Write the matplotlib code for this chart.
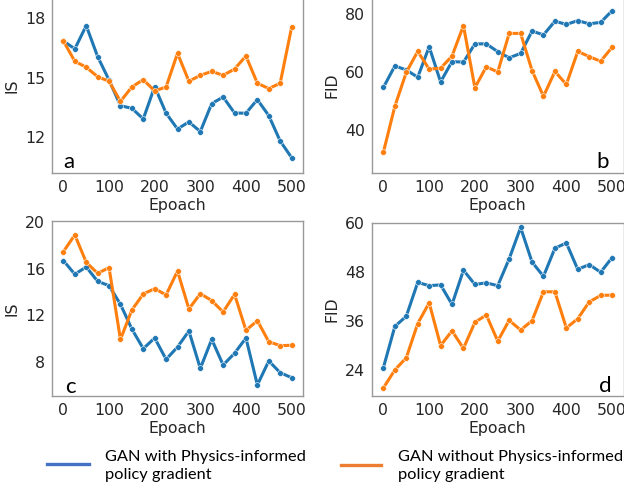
import matplotlib
matplotlib.use("Agg")
import matplotlib.pyplot as plt
from matplotlib.lines import Line2D

epochs = [0, 25, 50, 75, 100, 125, 150, 175, 200, 225, 250, 275, 300,
          325, 350, 375, 400, 425, 450, 475, 500]

a_with = [16.85, 16.45, 17.63, 16.06, 14.87, 13.57, 13.44, 12.90, 14.54, 13.19, 12.39,
          12.75, 12.26, 13.68, 14.01, 13.20, 13.19, 13.88, 13.07, 11.78, 10.94]
a_without = [16.85, 15.82, 15.52, 15.04, 14.81, 13.79, 14.52, 14.89, 14.32, 14.52, 16.23,
             14.81, 15.11, 15.31, 15.11, 15.43, 16.09, 14.71, 14.44, 14.71, 17.54]

b_with = [54.7, 62.1, 60.7, 58.2, 68.7, 56.6, 63.6, 63.4, 69.7, 69.7, 67.0,
          64.9, 66.4, 74.1, 72.8, 77.5, 76.4, 77.7, 76.6, 77.1, 81.1]
b_without = [32.4, 48.2, 59.9, 67.1, 61.0, 61.3, 65.5, 76.0, 54.6, 61.8, 60.0,
             73.3, 73.3, 60.5, 51.6, 60.2, 55.7, 67.1, 65.3, 63.7, 68.5]

c_with = [16.70, 15.52, 16.15, 14.91, 14.54, 12.93, 10.80, 9.11, 10.03, 8.19, 9.25,
          10.63, 7.41, 9.91, 7.70, 8.71, 10.03, 5.98, 8.05, 7.04, 6.61]
c_without = [17.47, 18.91, 16.55, 15.60, 16.09, 9.91, 12.44, 13.82, 14.28, 13.74, 15.80,
             12.53, 13.85, 13.25, 12.27, 13.79, 10.69, 11.52, 9.71, 9.37, 9.40]

d_with = [24.5, 34.6, 37.1, 45.4, 44.6, 44.8, 40.0, 48.4, 44.9, 45.3, 44.6,
          51.2, 58.9, 50.4, 46.9, 53.8, 55.1, 48.6, 49.8, 47.9, 51.5]
d_without = [19.5, 23.9, 26.9, 35.3, 40.4, 29.9, 33.5, 29.2, 35.6, 37.4, 31.0,
             36.1, 33.7, 36.0, 43.1, 43.1, 34.2, 36.5, 40.6, 42.2, 42.3]

panels = [
    ("a", "IS", a_with, a_without, [12, 15, 18], (10.16, 19.03), "left"),
    ("b", "FID", b_with, b_without, [40, 60, 80], (25.2, 85.5), "right"),
    ("c", "IS", c_with, c_without, [8, 12, 16, 20], (5.03, 20.11), "left"),
    ("d", "FID", d_with, d_without, [24, 36, 48, 60], (17.5, 60.0), "right"),
]
xticks = [0, 100, 200, 300, 400, 500]
legend_labels = ["GAN with Physics-informed\npolicy gradient",
                 "GAN without Physics-informed\npolicy gradient"]

W, H = 624, 492
fig = plt.figure(figsize=(W / 100, H / 100), dpi=100)
fig.patch.set_facecolor("white")

boxes = [
    (52, 173, 251, 175),
    (372, 173, 251.5, 175),
    (52, 396, 251, 175),
    (372, 396, 251.5, 173),
]
# letter offsets (axes fraction x, baseline y)
letter_pos = [(0.043, 0.027), (0.943, 0.030), (0.052, 0.017), (0.951, 0.026)]

blue = "#1f77b4"
orange = "#ff7f0e"
tick_col = "#262626"

for (letter, ylab, yw, ywo, yt, ylim, side), (x0, yb, w, h), (lx, ly) in zip(
        panels, boxes, letter_pos):
    ax = fig.add_axes([x0 / W, (H - yb) / H, w / W, h / H])
    ax.plot(epochs, yw, color=blue, lw=2.2, marker="o", ms=4.2,
            mec="white", mew=0.4)
    ax.plot(epochs, ywo, color=orange, lw=2.2, marker="o", ms=4.2,
            mec="white", mew=0.4)
    ax.set_xlim(-25, 525)
    ax.set_ylim(*ylim)
    ax.set_xticks(xticks)
    ax.set_yticks(yt)
    ax.tick_params(length=0, labelsize=11.3, labelcolor=tick_col, pad=5)
    ax.set_xlabel("Epoach", fontsize=11.3, color=tick_col, labelpad=2)
    ax.set_ylabel(ylab, fontsize=11.3, color=tick_col, labelpad=4)
    for s in ax.spines.values():
        s.set_color("#999999")
        s.set_linewidth(1.0)
    ax.grid(False)
    ax.text(lx, ly, letter, transform=ax.transAxes, fontsize=16,
            family="Lato", color="black",
            ha="left" if side == "left" else "right", va="baseline")

# legend drawn in figure coordinates
leg = [("#4472C4", 47, 89, 463.5, 105, legend_labels[0]),
       ("#ED7D31", 341, 381, 464.5, 398, legend_labels[1])]
for col, lx0, lx1, ly, tx, lab in leg:
    fig.add_artist(Line2D([lx0 / W, lx1 / W], [(H - ly) / H, (H - ly) / H],
                          color=col, lw=2.4, transform=fig.transFigure))
    fig.text(tx / W, (H - 466) / H, lab, family="Lato", fontsize=11.8,
             color="black", ha="left", va="center", linespacing=1.3)

fig.savefig("out.png", dpi=100, facecolor="white")
